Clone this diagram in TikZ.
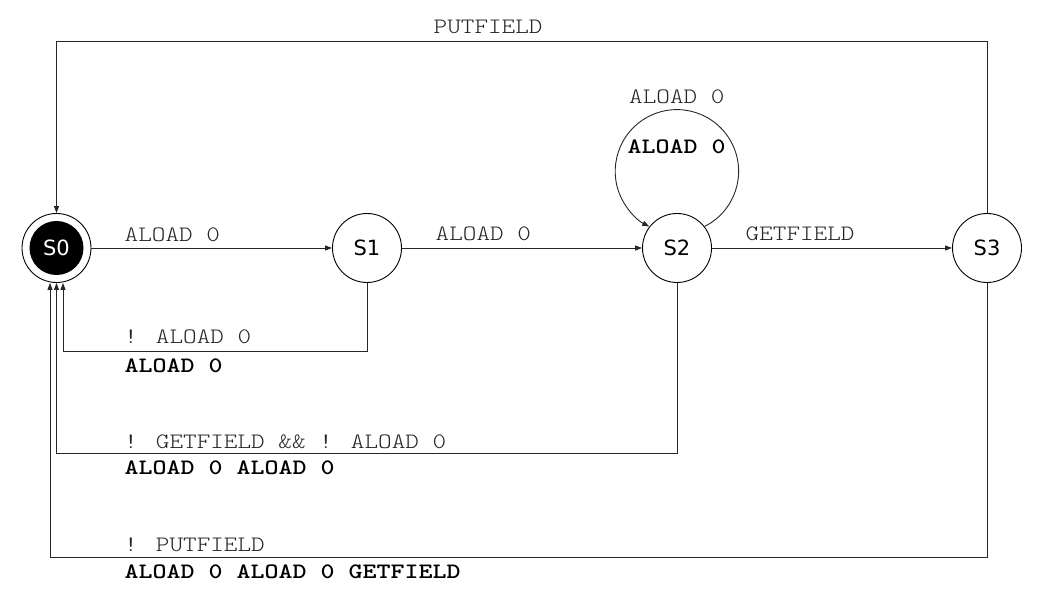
\documentclass[tikz,border=0pt]{standalone}
\usepackage{fontspec}
\usetikzlibrary{arrows.meta}
\newfontfamily\lblfont{lmmonolt10-regular.otf}[FakeStretch=1.178]
\newfontfamily\outfont{lmmonolt10-bold.otf}[FakeStretch=1.212]
\newfontfamily\statefont{DejaVu Sans}
\begin{document}
\begin{tikzpicture}[x=1pt,y=1pt,
  state/.style={circle,draw=black,line width=0.9pt,minimum size=69pt,inner sep=0pt,font=\statefont\fontsize{21}{21}\selectfont},
  startin/.style={circle,fill=black,minimum size=54pt,inner sep=0pt,text=white,font=\statefont\fontsize{21}{21}\selectfont},
  edge/.style={draw=black!85,line width=0.9pt,-{Triangle[length=7pt,width=5pt]}},
  inlbl/.style={anchor=base west,inner sep=0pt,font=\lblfont\fontsize{22}{22}\selectfont,text=black!85},
  outlbl/.style={anchor=base west,inner sep=0pt,font=\outfont\fontsize{22}{22}\selectfont}]
\useasboundingbox (0,0) rectangle (1046,604);
% states
\node[state] (s0) at (56.5,356) {};
\node[startin] (s0in) at (s0.center) {S0};
\node[state] (s1) at (367,356) {S1};
\node[state] (s2) at (677,356) {S2};
\node[state] (s3) at (987,356) {S3};
% corner coordinates
\coordinate (t0) at (56.5,563);
\coordinate (r1) at (63,253);
\coordinate (r2) at (56.5,150.7);
\coordinate (r3) at (50,46.7);
% forward edges
\draw[edge] (s0) -- (s1);
\draw[edge] (s1) -- (s2);
\draw[edge] (s2) -- (s3);
\draw[edge] (s2.38) arc[start angle=-63.4,end angle=243.4,radius=61.7pt];
% back edges
\draw[edge] (s3.north) |- (t0) -- (s0.north);
\draw[edge] (s1.south) |- (r1) -- (r1 |- s0.south);
\draw[edge] (s2.south) |- (r2) -- (r2 |- s0.south);
\draw[edge] (s3.south) |- (r3) -- (r3 |- s0.south);
% labels
\node[inlbl] (lput) at (433.5,570.7) {PUTFIELD};
\node[inlbl] (l01) at (124.5,362.3) {ALOAD 0};
\node[inlbl] (l12) at (435.5,363.3) {ALOAD 0};
\node[inlbl] (l23) at (745.5,363) {GETFIELD};
\node[inlbl] (lloop) at (629,500.7) {ALOAD 0};
\node[outlbl] (oloop) at (627.5,450) {ALOAD 0};
\node[inlbl] (l10) at (124,260) {! ALOAD 0};
\node[outlbl] (o10) at (124.5,231.3) {ALOAD 0};
\node[inlbl] (l20) at (124,155.7) {! GETFIELD \&\& ! ALOAD 0};
\node[outlbl] (o20) at (124.5,129) {ALOAD 0 ALOAD 0};
\node[inlbl] (l30) at (124,52.3) {! PUTFIELD};
\node[outlbl] (o30) at (124.5,25.7) {ALOAD 0 ALOAD 0 GETFIELD};
\end{tikzpicture}
\end{document}
